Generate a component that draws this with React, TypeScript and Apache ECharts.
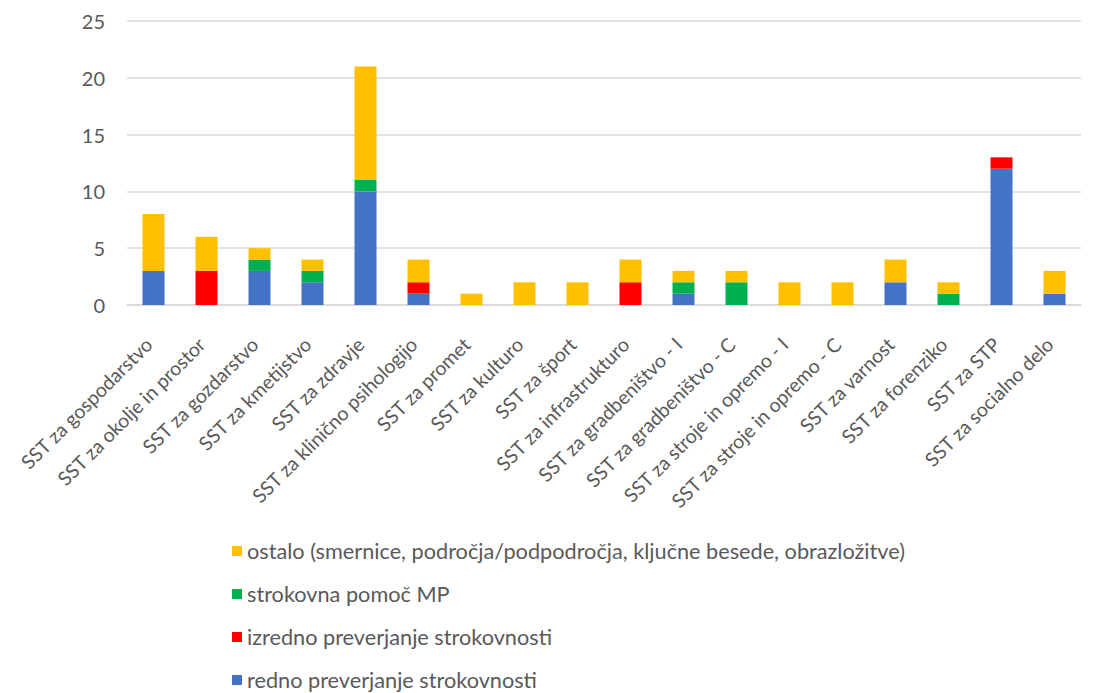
import React, { useEffect, useRef } from "react";
import * as echarts from "echarts";

const categories = [
  "SST za gospodarstvo",
  "SST za okolje in prostor",
  "SST za gozdarstvo",
  "SST za kmetijstvo",
  "SST za zdravje",
  "SST za klinično psihologijo",
  "SST za promet",
  "SST za kulturo",
  "SST za šport",
  "SST za infrastrukturo",
  "SST za gradbeništvo - I",
  "SST za gradbeništvo - C",
  "SST za stroje in opremo - I",
  "SST za stroje in opremo - C",
  "SST za varnost",
  "SST za forenziko",
  "SST za STP",
  "SST za socialno delo",
];

const redno = [3, 0, 3, 2, 10, 1, 0, 0, 0, 0, 1, 0, 0, 0, 2, 0, 12, 1];
const izredno = [0, 3, 0, 0, 0, 1, 0, 0, 0, 2, 0, 0, 0, 0, 0, 0, 1, 0];
const pomoc = [0, 0, 1, 1, 1, 0, 0, 0, 0, 0, 1, 2, 0, 0, 0, 1, 0, 0];
const ostalo = [5, 3, 1, 1, 10, 2, 1, 2, 2, 2, 1, 1, 2, 2, 2, 1, 0, 2];

const seriesNames = [
  "redno preverjanje strokovnosti",
  "izredno preverjanje strokovnosti",
  "strokovna pomoč MP",
  "ostalo (smernice, področja/podpodročja, ključne besede, obrazložitve)",
];
const seriesColors = ["#4472C4", "#FF0000", "#00B050", "#FFC000"];
const seriesData = [redno, izredno, pomoc, ostalo];

const FONT = "Lato, 'Noto Sans', sans-serif";

export default function App() {
  const ref = useRef<HTMLDivElement>(null);
  useEffect(() => {
    if (!ref.current) return;
    const chart = echarts.init(ref.current, undefined, { renderer: "svg" });
    chart.setOption({
      animation: false,
      backgroundColor: "#ffffff",
      textStyle: { fontFamily: FONT },
      grid: { left: 127, right: 19, top: 21, bottom: 388, containLabel: false },
      legend: {
        orient: "vertical",
        left: 232,
        top: 540,
        height: 200,
        padding: 0,
        itemWidth: 10,
        itemHeight: 10,
        itemGap: 21,
        icon: "rect",
        data: [...seriesNames].reverse(),
        textStyle: { fontFamily: FONT, fontSize: 21.7, color: "#595959" },
      },
      xAxis: {
        type: "category",
        data: categories,
        axisLine: { show: true, lineStyle: { color: "#d9d9d9", width: 1.5 } },
        axisTick: { show: false },
        axisLabel: {
          interval: 0,
          rotate: 45,
          margin: 31,
          padding: [0, 7, 0, 0],
          fontFamily: FONT,
          fontSize: 19.5,
          color: "#595959",
        },
      },
      yAxis: {
        type: "value",
        min: 0,
        max: 25,
        interval: 5,
        axisLine: { show: false },
        axisTick: { show: false },
        splitLine: { lineStyle: { color: "#d9d9d9", width: 1.5 } },
        axisLabel: { margin: 22, fontFamily: FONT, fontSize: 20, color: "#595959" },
      },
      series: seriesNames.map((name, i) => ({
        name,
        type: "bar",
        stack: "total",
        barWidth: 22,
        data: seriesData[i],
        itemStyle: { color: seriesColors[i] },
      })),
    });
    return () => chart.dispose();
  }, []);
  return (
    <div
      ref={ref}
      style={{ position: "fixed", left: 0, top: 0, width: 1100, height: 693 }}
    />
  );
}
